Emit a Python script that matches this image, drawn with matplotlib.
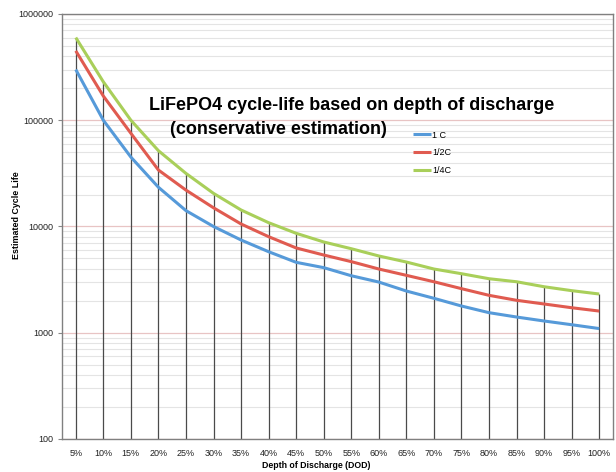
import matplotlib
matplotlib.use("Agg")
import matplotlib.pyplot as plt
from matplotlib.ticker import LogLocator, NullFormatter

categories = ["5%", "10%", "15%", "20%", "25%", "30%", "35%", "40%", "45%", "50%",
              "55%", "60%", "65%", "70%", "75%", "80%", "85%", "90%", "95%", "100%"]
c1 = [300000, 100000, 45000, 23400, 14100, 10000, 7460, 5790, 4600, 4100,
      3440, 3000, 2470, 2110, 1785, 1545, 1406, 1290, 1190, 1095]
c_half = [450000, 169000, 75400, 34000, 22000, 15000, 10560, 8020, 6280, 5390,
          4670, 3980, 3470, 3020, 2600, 2250, 2020, 1865, 1720, 1600]
c_quarter = [600000, 230000, 100000, 51700, 31600, 20500, 14300, 10860, 8630, 7150,
             6180, 5280, 4630, 3980, 3595, 3225, 3020, 2710, 2490, 2315]
series_names = ["1 C", "1/2C", "1/4C"]
y_ticks = [100, 1000, 10000, 100000, 1000000]

fig = plt.figure(figsize=(6.16, 4.72), dpi=100)
ax = fig.add_axes([62/616, 1-439/472, 551/616, 425/472])
ax.set_yscale("log")
x = list(range(1, len(categories) + 1))
ax.set_xlim(0.5, len(categories) + 0.5)
ax.set_ylim(100, 1000000)

# gridlines
ax.yaxis.set_minor_locator(LogLocator(base=10, subs=range(2, 10)))
ax.yaxis.set_minor_formatter(NullFormatter())
ax.grid(which="minor", axis="y", color="#e4e4e4", lw=0.8, zorder=0)
ax.grid(which="major", axis="y", color="#e8c4c4", lw=0.9, zorder=0)

# drop lines
ax.vlines(x, 100, c_quarter, color="#4a4a4a", lw=0.9, zorder=2)

colors = ["#569ad9", "#e05b50", "#a9cf5a"]
for vals, name, col in zip([c1, c_half, c_quarter], series_names, colors):
    ax.plot(x, vals, color=col, lw=2.2, label=name, zorder=3, solid_capstyle="butt")

ax.set_xticks(x)
ax.set_xticklabels(categories, fontsize=6.5, family="Liberation Sans", color="#222222")
ax.set_yticks(y_ticks)
ax.set_yticklabels([str(v) for v in y_ticks], fontsize=6.5, family="Liberation Sans", color="#222222")
ax.tick_params(axis="x", length=0, pad=7)
ax.tick_params(axis="y", which="major", length=3, color="#888888", pad=3)
ax.tick_params(axis="y", which="minor", length=0)

for s in ax.spines.values():
    s.set_color("#808080")
    s.set_linewidth(1.0)

fig.text(316/616, 1-466/472, "Depth of Discharge (DOD)", fontsize=6.3, fontweight="bold",
         family="Liberation Sans", ha="center", va="center")
fig.text(17/616, 1-215/472, "Estimated Cycle Life", fontsize=6.4, fontweight="bold",
         family="Liberation Sans", ha="center", va="center", rotation=90)

fig.text(352/616, 1-105/472, "LiFePO4 cycle-life based on depth of discharge",
         ha="center", va="center", fontsize=13, fontweight="bold", family="Liberation Sans")
fig.text(278/616, 1-129/472, "(conservative estimation)",
         ha="center", va="center", fontsize=13, fontweight="bold", family="Liberation Sans")

leg = ax.legend(loc="upper left", bbox_to_anchor=(408/616, 1-126/472),
                bbox_transform=fig.transFigure, frameon=False,
                prop={"family": "Liberation Sans", "size": 6.5},
                handlelength=2.0, handletextpad=0.2, labelspacing=0.95, borderpad=0)

fig.savefig("out.png", dpi=100)
